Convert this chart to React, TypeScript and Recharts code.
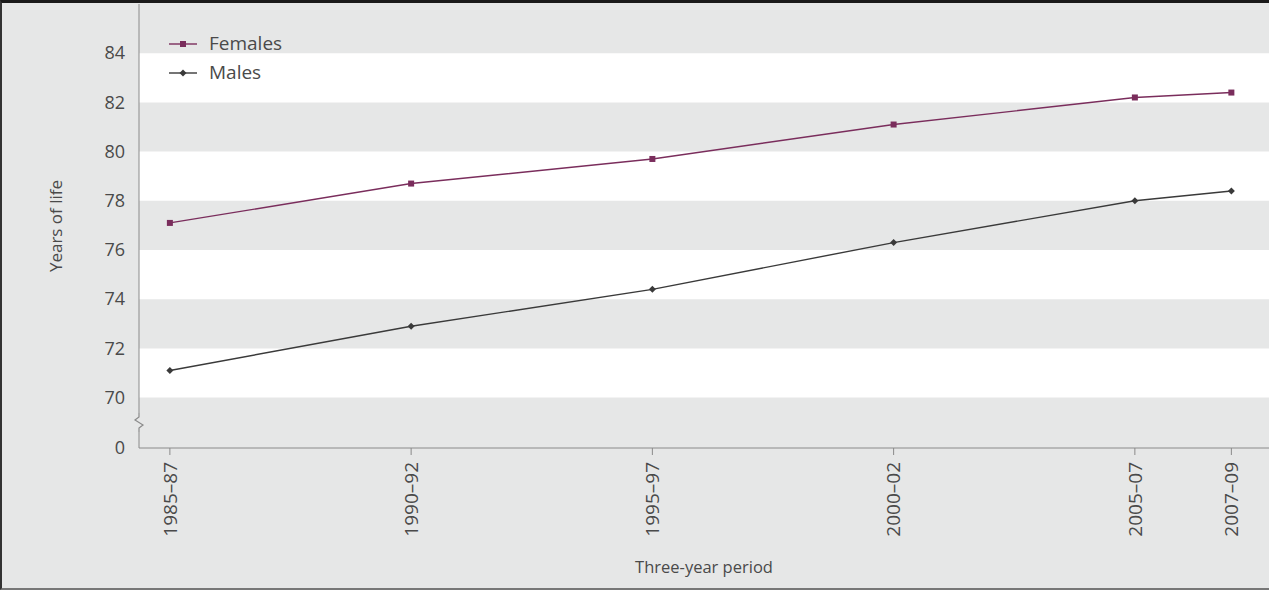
import React from 'react';
import { LineChart, Line, XAxis, YAxis, ReferenceArea, Legend } from 'recharts';

// periods and their mid-year (used to place points on a time axis)
const periods = ['1985–87', '1990–92', '1995–97', '2000–02', '2005–07', '2007–09'];
const midYears = [1986, 1991, 1996, 2001, 2006, 2008];
const females = [77.1, 78.7, 79.7, 81.1, 82.2, 82.4];
const males = [71.1, 72.9, 74.4, 76.3, 78.0, 78.4];

const yTicks = [67.95, 70, 72, 74, 76, 78, 80, 82, 84];
const whiteBands = [[70, 72], [74, 76], [78, 80], [82, 84]];

const data = periods.map((p, i) => ({ period: p, year: midYears[i], females: females[i], males: males[i] }));

const FONT = '"Open Sans", sans-serif';
const BG = '#e6e7e7';
const AXIS = '#8a8a8a';
const TEXT = '#4a4a4a';
const FEMALE = '#7a2d5c';
const MALE = '#3a3a3a';

const YTick = (props: any) => {
  const { x, y, payload } = props;
  const isBreak = payload.value < 69;
  const ax = x + 14;
  return (
    <g>
      {isBreak && (
        <g>
          <rect x={ax - 3} y={y - 35} width={6} height={19} fill={BG} />
          <path
            d={`M${ax},${y - 35} L${ax},${y - 31} L${ax - 4},${y - 28} L${ax + 4},${y - 23} L${ax},${y - 20} L${ax},${y - 16}`}
            fill="none"
            stroke={AXIS}
            strokeWidth={1.2}
          />
        </g>
      )}
      <text x={x} y={y} dy="0.35em" textAnchor="end" fill={TEXT} fontSize={18} fontFamily={FONT}>
        {isBreak ? '0' : payload.value}
      </text>
    </g>
  );
};

const XTick = (props: any) => {
  const { x, y, payload } = props;
  const idx = midYears.indexOf(payload.value);
  return (
    <g transform={`translate(${x},${y})`}>
      <text transform="rotate(-90)" textAnchor="end" dy="0.35em" fill={TEXT} fontSize={19} fontFamily={FONT}>
        {periods[idx]}
      </text>
    </g>
  );
};

const FemaleDot = (props: any) => {
  const { cx, cy } = props;
  return <rect x={cx - 3} y={cy - 3} width={6} height={6} fill={FEMALE} />;
};

const MaleDot = (props: any) => {
  const { cx, cy } = props;
  return <path d={`M${cx},${cy - 3.5} L${cx + 3.5},${cy} L${cx},${cy + 3.5} L${cx - 3.5},${cy} Z`} fill={MALE} />;
};

const legendItems = [
  { name: 'Females', color: FEMALE, square: true },
  { name: 'Males', color: MALE, square: false },
];

const renderLegend = () => (
  <div style={{ fontFamily: FONT, fontSize: 19, color: TEXT, lineHeight: '29px' }}>
    {legendItems.map((it) => (
      <div key={it.name} style={{ display: 'flex', alignItems: 'center' }}>
        <svg width={30} height={10}>
          <line x1={1} y1={5} x2={29} y2={5} stroke={it.color} strokeWidth={1.4} />
          {it.square ? (
            <rect x={12} y={2} width={6} height={6} fill={it.color} />
          ) : (
            <path d="M15,1.5 L18.5,5 L15,8.5 L11.5,5 Z" fill={it.color} />
          )}
        </svg>
        <span style={{ marginLeft: 11 }}>{it.name}</span>
      </div>
    ))}
  </div>
);

export default function App() {
  return (
    <div style={{ position: 'absolute', left: 0, top: 0, width: 1269, height: 590, background: BG, fontFamily: FONT }}>
      <LineChart width={1269} height={590} data={data} margin={{ top: 4, right: 0, bottom: 0, left: 0 }}>
        {whiteBands.map(([a, b]) => (
          <ReferenceArea key={a} y1={a} y2={b} fill="#ffffff" fillOpacity={1} stroke="none" />
        ))}
        <XAxis
          dataKey="year"
          type="number"
          domain={[1985.36, 2008.78]}
          ticks={midYears}
          allowDataOverflow
          height={142}
          stroke={AXIS}
          tickSize={7}
          tickMargin={7}
          tick={<XTick />}
          label={{ value: 'Three-year period', position: 'insideBottom', offset: 17, fill: TEXT, fontSize: 16.5, fontFamily: FONT }}
        />
        <YAxis
          type="number"
          domain={[67.95, 86]}
          ticks={yTicks}
          allowDataOverflow
          width={139}
          stroke={AXIS}
          tickLine={false}
          tickSize={6}
          tickMargin={8}
          tick={<YTick />}
          label={{ value: 'Years of life', angle: -90, position: 'insideLeft', offset: 56, fill: TEXT, fontSize: 17, fontFamily: FONT, style: { textAnchor: 'middle' } }}
        />
        <Legend
          layout="vertical"
          align="center"
          verticalAlign="middle"
          content={renderLegend}
          wrapperStyle={{ top: 29, left: 168, width: 'auto' }}
        />
        <Line type="linear" dataKey="females" stroke={FEMALE} strokeWidth={1.4} dot={<FemaleDot />} activeDot={false} isAnimationActive={false} />
        <Line type="linear" dataKey="males" stroke={MALE} strokeWidth={1.4} dot={<MaleDot />} activeDot={false} isAnimationActive={false} />
      </LineChart>
      <div
        style={{
          position: 'absolute', left: 0, top: 0, width: 1269, height: 590, boxSizing: 'border-box',
          borderTop: '3px solid #1a1a1a', borderLeft: '2px solid #333', borderBottom: '2px solid #777',
          pointerEvents: 'none',
        }}
      />
    </div>
  );
}
